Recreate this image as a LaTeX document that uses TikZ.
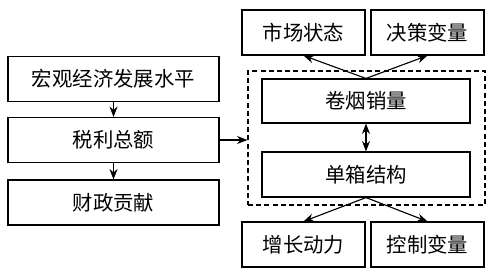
\documentclass[tikz,border=0pt]{standalone}
\usepackage{fontspec}
\setmainfont{Noto Sans CJK SC}
\usetikzlibrary{arrows.meta, positioning}

\begin{document}
\begin{tikzpicture}[
        x=0.25mm, y=-0.25mm,
        every node/.style={font=\fontsize{14.5}{16}\selectfont},
        line width=0.8pt,
        >={Stealth[length=2.6mm, width=2mm]},
        box/.style={draw, minimum height=11.25mm, inner sep=0pt}
    ]
    \useasboundingbox (0,0) rectangle (490,268);

    % Left column
    \node[box, minimum width=52.75mm] (hgjj) at (113.5,79) {宏观经济发展水平};
    \node[box, minimum width=52.75mm] (slze) at (113.5,140) {税利总额};
    \node[box, minimum width=52.75mm] (czgx) at (113.5,202.5) {财政贡献};
    \draw[->] (hgjj) -- (slze);
    \draw[->] (slze) -- (czgx);

    % Dashed frame
    \node[draw, dash pattern=on 1.25mm off 0.8mm, minimum width=59.25mm, minimum height=33.5mm, inner sep=0pt] (grp) at (366.5,138) {};
    \draw[->] (slze.east) -- (slze.east -| grp.west);

    % Inner boxes
    \node[box, minimum width=52mm, minimum height=11mm] (jyxl) at (366,101) {卷烟销量};
    \node[box, minimum width=52mm] (dxjg) at (366,174.5) {单箱结构};
    \draw[<->] (jyxl) -- (dxjg);

    % Top boxes
    \node[box, minimum width=30.75mm] (sczt) at (303.5,32.5) {市场状态};
    \node[box, minimum width=28.25mm] (jcbl) at (427.5,32.5) {决策变量};
    \draw[->] (jyxl.north) -- (sczt.south);
    \draw[->] (jyxl.north) -- (jcbl.south);

    % Bottom boxes
    \node[box, minimum width=30.75mm] (zzdl) at (303.5,244.5) {增长动力};
    \node[box, minimum width=28.25mm] (kzbl) at (427.5,244.5) {控制变量};
    \draw[->] (dxjg.south) -- (zzdl.north);
    \draw[->] (dxjg.south) -- (kzbl.north);

\end{tikzpicture}
\end{document}
